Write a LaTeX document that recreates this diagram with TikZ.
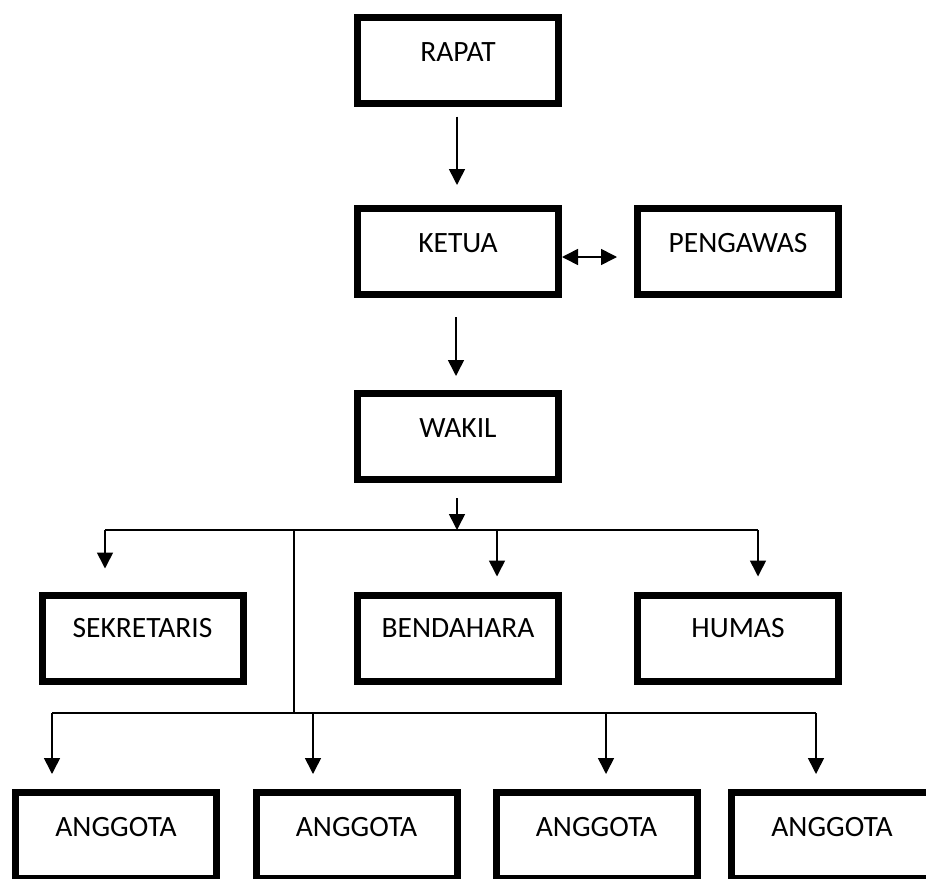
\documentclass[tikz,border=0pt]{standalone}
\usepackage{fontspec}
\setmainfont{Carlito}
\usetikzlibrary{arrows.meta}
\tikzset{
  orgbox/.style={draw=black, line width=7pt, rectangle, inner sep=0pt,
    minimum width=201pt, minimum height=86pt, fill=white},
  lbl/.style={inner sep=0pt, font=\fontsize{29.5}{31}\selectfont, text=black},
  conn/.style={draw=black, line width=1.6pt},
  arr/.style={conn, -{Triangle[width=16pt,length=16pt]}},
  darr/.style={conn, {Triangle[width=16pt,length=16pt]}-{Triangle[width=16pt,length=16pt]}},
}
\begin{document}
\begin{tikzpicture}[x=1pt,y=-1pt]
\useasboundingbox (0,0) rectangle (926,878);
\fill[white] (0,0) rectangle (926,878);

% boxes
\node[orgbox] (rapat)  at (458,60)    {};
\node[orgbox] (ketua)  at (458,251.5) {};
\node[orgbox] (peng)   at (738,251.5) {};
\node[orgbox] (wakil)  at (458,436.5) {};
\node[orgbox] (sek)    at (142.5,638) {};
\node[orgbox] (bend)   at (458,638)   {};
\node[orgbox] (humas)  at (738,638)   {};
\node[orgbox] (ang1)   at (116,835.5) {};
\node[orgbox] (ang2)   at (356.5,835.5) {};
\node[orgbox] (ang3)   at (596.5,835.5) {};
\node[orgbox] (ang4)   at (832,835.5) {};

% labels
\node[lbl, yshift=-39pt] (trapat) at (rapat.north) {RAPAT};
\node[lbl, yshift=-38pt] (tketua) at (ketua.north) {KETUA};
\node[lbl, yshift=-38pt] (tpeng)  at (peng.north)  {PENGAWAS};
\node[lbl, yshift=-38pt] (twakil) at (wakil.north) {WAKIL};
\node[lbl, yshift=-37pt] (tsek)   at (sek.north)   {SEKRETARIS};
\node[lbl, yshift=-37pt] (tbend)  at (bend.north)  {BENDAHARA};
\node[lbl, yshift=-37pt] (thumas) at (humas.north) {HUMAS};
\node[lbl, yshift=-38pt] (ta1) at (ang1.north) {ANGGOTA};
\node[lbl, yshift=-38pt] (ta2) at (ang2.north) {ANGGOTA};
\node[lbl, yshift=-38pt] (ta3) at (ang3.north) {ANGGOTA};
\node[lbl, yshift=-38pt] (ta4) at (ang4.north) {ANGGOTA};

% top chain
\draw[arr, shorten <=10pt, shorten >=20pt] ([xshift=-1pt]rapat.south) -- ([xshift=-1pt]ketua.north);
\draw[arr, shorten <=19pt, shorten >=14pt] ([xshift=-2pt]ketua.south) -- ([xshift=-2pt]wakil.north);
\draw[darr, shorten >=17pt] ([yshift=-5.5pt]ketua.east) -- ([yshift=-5.5pt]peng.west);

% bus from wakil
\coordinate (busw) at (457,530);
\coordinate (bsL) at (105,530);
\coordinate (bsR) at (758,530);
\coordinate (bsB) at (497,530);
\coordinate (bsV) at (294,530);
\coordinate (baV) at (294,713);
\coordinate (baL) at (52,713);
\coordinate (baR) at (816,713);
\coordinate (ba2) at (313,713);
\coordinate (ba3) at (606,713);

\draw[arr, shorten <=15pt] ([xshift=-1pt]wakil.south) -- (busw);
\draw[conn] (bsL) -- (bsR);
\draw[arr, shorten >=23pt] (bsL) -- (bsL |- sek.north);
\draw[arr, shorten >=15pt] (bsB) -- (bsB |- bend.north);
\draw[arr, shorten >=15pt] (bsR) -- (bsR |- humas.north);
\draw[conn] (bsV) -- (baV);
\draw[conn] (baL) -- (baR);
\draw[arr, shorten >=15pt] (baL) -- (baL |- ang1.north);
\draw[arr, shorten >=15pt] (ba2) -- (ba2 |- ang2.north);
\draw[arr, shorten >=15pt] (ba3) -- (ba3 |- ang3.north);
\draw[arr, shorten >=15pt] (baR) -- (baR |- ang4.north);
\end{tikzpicture}
\end{document}
